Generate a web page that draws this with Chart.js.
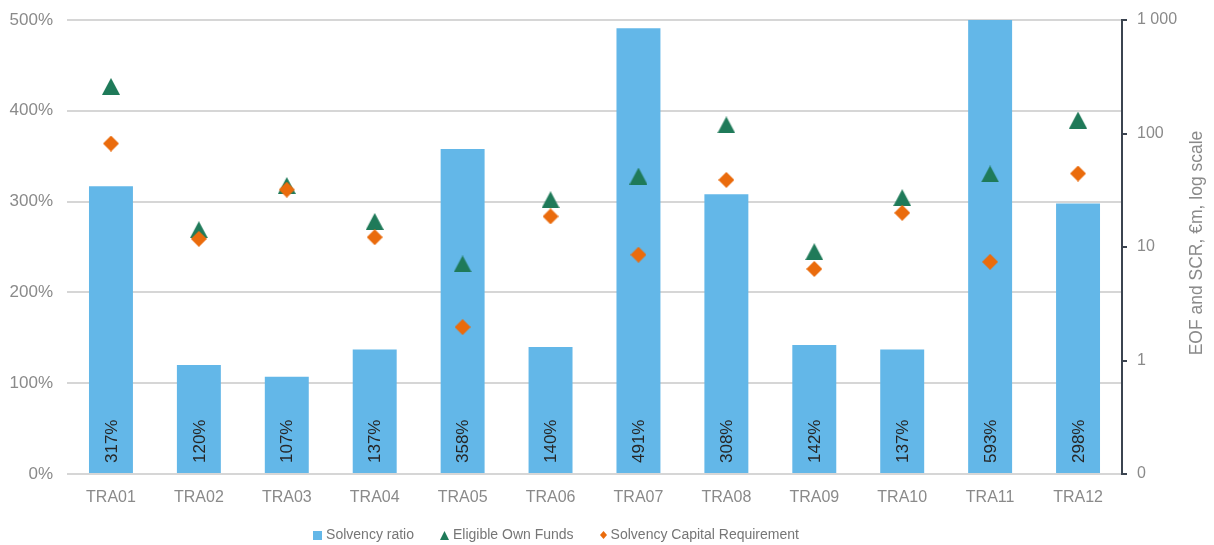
<!DOCTYPE html>
<html>
<head>
<meta charset="utf-8">
<script src="https://cdn.jsdelivr.net/npm/chart.js@4"></script>
<style>
  html, body { margin: 0; padding: 0; background: #fff; }
  #wrap { width: 1214px; height: 545px; }
</style>
</head>
<body>
<div id="wrap"><canvas id="solvencyChart" width="1214" height="545"></canvas></div>
<script>
// ================= DATA =================

const categories = ['TRA01', 'TRA02', 'TRA03', 'TRA04', 'TRA05', 'TRA06',
                    'TRA07', 'TRA08', 'TRA09', 'TRA10', 'TRA11', 'TRA12'];

// solvency ratio, %
const solvencyRatio = [317, 120, 107, 137, 358, 140, 491, 308, 142, 137, 593, 298];

// EOF and SCR, €m (log axis)
const eligibleOwnFunds = [260, 14.2, 34.8, 16.8, 7.1, 26.1, 42.2, 119, 9.1, 27.2, 44, 131.5];
const solvencyCapitalReq = [81.6, 11.8, 32, 12.2, 1.97, 18.6, 8.55, 39, 6.4, 20, 7.4, 44.4];

const ratioTicks = [0, 100, 200, 300, 400, 500];
const amountTicks = [0.1, 1, 10, 100, 1000];

const seriesNames = ['Solvency ratio', 'Eligible Own Funds', 'Solvency Capital Requirement'];

// ================= STYLE =================

const FONT = "'Liberation Sans', Arial, sans-serif";
const BLUE = '#63b7e8';
const GREEN = '#1f7a59';
const ORANGE = '#ea6b0c';
const TICK_GREY = '#8a8a8a';
const LEGEND_CENTER = 556;

// small canvas markers so the shapes sit centred like in the original
function makeMarker(shape, w, h, color){
    const c = document.createElement('canvas');
    c.width = w;
    c.height = h;
    const g = c.getContext('2d');
    g.fillStyle = color;
    g.beginPath();
    if(shape === 'triangle'){
        g.moveTo(w / 2, 0);
        g.lineTo(w, h);
        g.lineTo(0, h);
    }else if(shape === 'diamond'){
        g.moveTo(w / 2, 0);
        g.lineTo(w, h / 2);
        g.lineTo(w / 2, h);
        g.lineTo(0, h / 2);
    }else{
        g.rect(0, 0, w, h);
    }
    g.closePath();
    g.fill();
    return c;
}

const triangleMarker = makeMarker('triangle', 18, 17, GREEN);
const diamondMarker = makeMarker('diamond', 16, 16, ORANGE);
const legendMarkers = [
    makeMarker('square', 9, 9, BLUE),
    makeMarker('triangle', 9, 9, GREEN),
    makeMarker('diamond', 7, 8, ORANGE)
];

function formatAmount(v){
    if(v < 1) return '0';
    return String(Math.round(v)).replace(/\B(?=(\d{3})+(?!\d))/g, ' ');
}

// ================= PLUGINS =================

// rotated value labels inside the bars
const barLabels = {
    id: 'barLabels',
    afterDatasetsDraw(chart){
        const ctx = chart.ctx;
        const base = chart.scales.y.getPixelForValue(0);
        chart.getDatasetMeta(0).data.forEach((bar, i) => {
            ctx.save();
            ctx.translate(bar.x, base - 11);
            ctx.rotate(-Math.PI / 2);
            ctx.font = '17px ' + FONT;
            ctx.fillStyle = '#262626';
            ctx.textAlign = 'left';
            ctx.textBaseline = 'middle';
            ctx.fillText(solvencyRatio[i] + '%', 0, 1);
            ctx.restore();
        });
    }
};

// right axis title reading bottom to top
const rightTitle = {
    id: 'rightTitle',
    afterDraw(chart){
        const ctx = chart.ctx;
        ctx.save();
        ctx.translate(1197, 243);
        ctx.rotate(-Math.PI / 2);
        ctx.font = '17.5px ' + FONT;
        ctx.fillStyle = TICK_GREY;
        ctx.textAlign = 'center';
        ctx.textBaseline = 'middle';
        ctx.fillText('EOF and SCR, €m, log scale', 0, 0);
        ctx.restore();
    }
};

// legend row under the axis, markers tight to the text like the original
const bottomLegend = {
    id: 'bottomLegend',
    afterDraw(chart){
        const ctx = chart.ctx;
        const y = 535;
        ctx.save();
        ctx.font = '14px ' + FONT;
        ctx.textBaseline = 'middle';
        ctx.fillStyle = '#767676';

        const items = chart.data.datasets.map((ds, i) => ({
            text: ds.label,
            marker: legendMarkers[i],
            width: legendMarkers[i].width + 4 + ctx.measureText(ds.label).width
        }));
        const gap = 26;
        const total = items.reduce((s, it) => s + it.width, 0) + gap * (items.length - 1);
        let x = LEGEND_CENTER - total / 2;

        items.forEach(it => {
            ctx.drawImage(it.marker, Math.round(x), Math.round(y - it.marker.height / 2));
            ctx.fillText(it.text, x + it.marker.width + 4, y);
            x += it.width + gap;
        });
        ctx.restore();
    }
};

// keep tick label heights from pushing the plot area down
function fixVertical(width){
    return function(scale){
        scale.width = width;
        scale.paddingTop = 0;
        scale.paddingBottom = 0;
    };
}

// ================= CHART =================

const ctx = document.getElementById('solvencyChart');

new Chart(ctx, {
    data: {
        labels: categories,
        datasets: [
            {
                type: 'bar',
                label: seriesNames[0],
                data: solvencyRatio,
                backgroundColor: BLUE,
                borderWidth: 0,
                categoryPercentage: 1,
                barPercentage: 0.5,
                yAxisID: 'y',
                order: 2
            },
            {
                type: 'line',
                label: seriesNames[1],
                data: eligibleOwnFunds,
                showLine: false,
                pointStyle: triangleMarker,
                pointRadius: 9,
                pointHoverRadius: 9,
                yAxisID: 'y2',
                order: 1
            },
            {
                type: 'line',
                label: seriesNames[2],
                data: solvencyCapitalReq,
                showLine: false,
                pointStyle: diamondMarker,
                pointRadius: 8,
                pointHoverRadius: 8,
                yAxisID: 'y2',
                order: 0
            }
        ]
    },
    options: {
        responsive: false,
        animation: false,
        layout: { padding: { top: 20, left: 0, right: 0, bottom: 35 } },
        plugins: {
            tooltip: { enabled: false },
            legend: { display: false }
        },
        scales: {
            x: {
                grid: { display: false },
                border: { display: false },
                ticks: {
                    color: TICK_GREY,
                    padding: 6,
                    maxRotation: 0,
                    font: { family: FONT, size: 16 }
                },
                afterFit(scale){ scale.height = 36; }
            },
            y: {
                position: 'left',
                min: 0,
                max: 500,
                afterBuildTicks(scale){
                    scale.ticks = ratioTicks.map(v => ({ value: v }));
                },
                grid: { color: '#d6d6d6', lineWidth: 2, drawTicks: false },
                border: { display: false },
                ticks: {
                    color: TICK_GREY,
                    padding: 14,
                    font: { family: FONT, size: 17 },
                    callback: v => v + '%'
                },
                afterFit: fixVertical(67)
            },
            y2: {
                type: 'logarithmic',
                position: 'right',
                min: 0.1,
                max: 1000,
                afterBuildTicks(scale){
                    scale.ticks = amountTicks.map(v => ({ value: v, major: true }));
                },
                grid: {
                    drawOnChartArea: false,
                    color: '#3b4450',
                    lineWidth: 2,
                    tickLength: 5
                },
                border: { display: true, color: '#3b4450', width: 2 },
                ticks: {
                    color: TICK_GREY,
                    padding: 10,
                    font: { family: FONT, size: 16 },
                    callback: v => formatAmount(v)
                },
                afterFit: fixVertical(92)
            }
        }
    },
    plugins: [barLabels, rightTitle, bottomLegend]
});
</script>
</body>
</html>
